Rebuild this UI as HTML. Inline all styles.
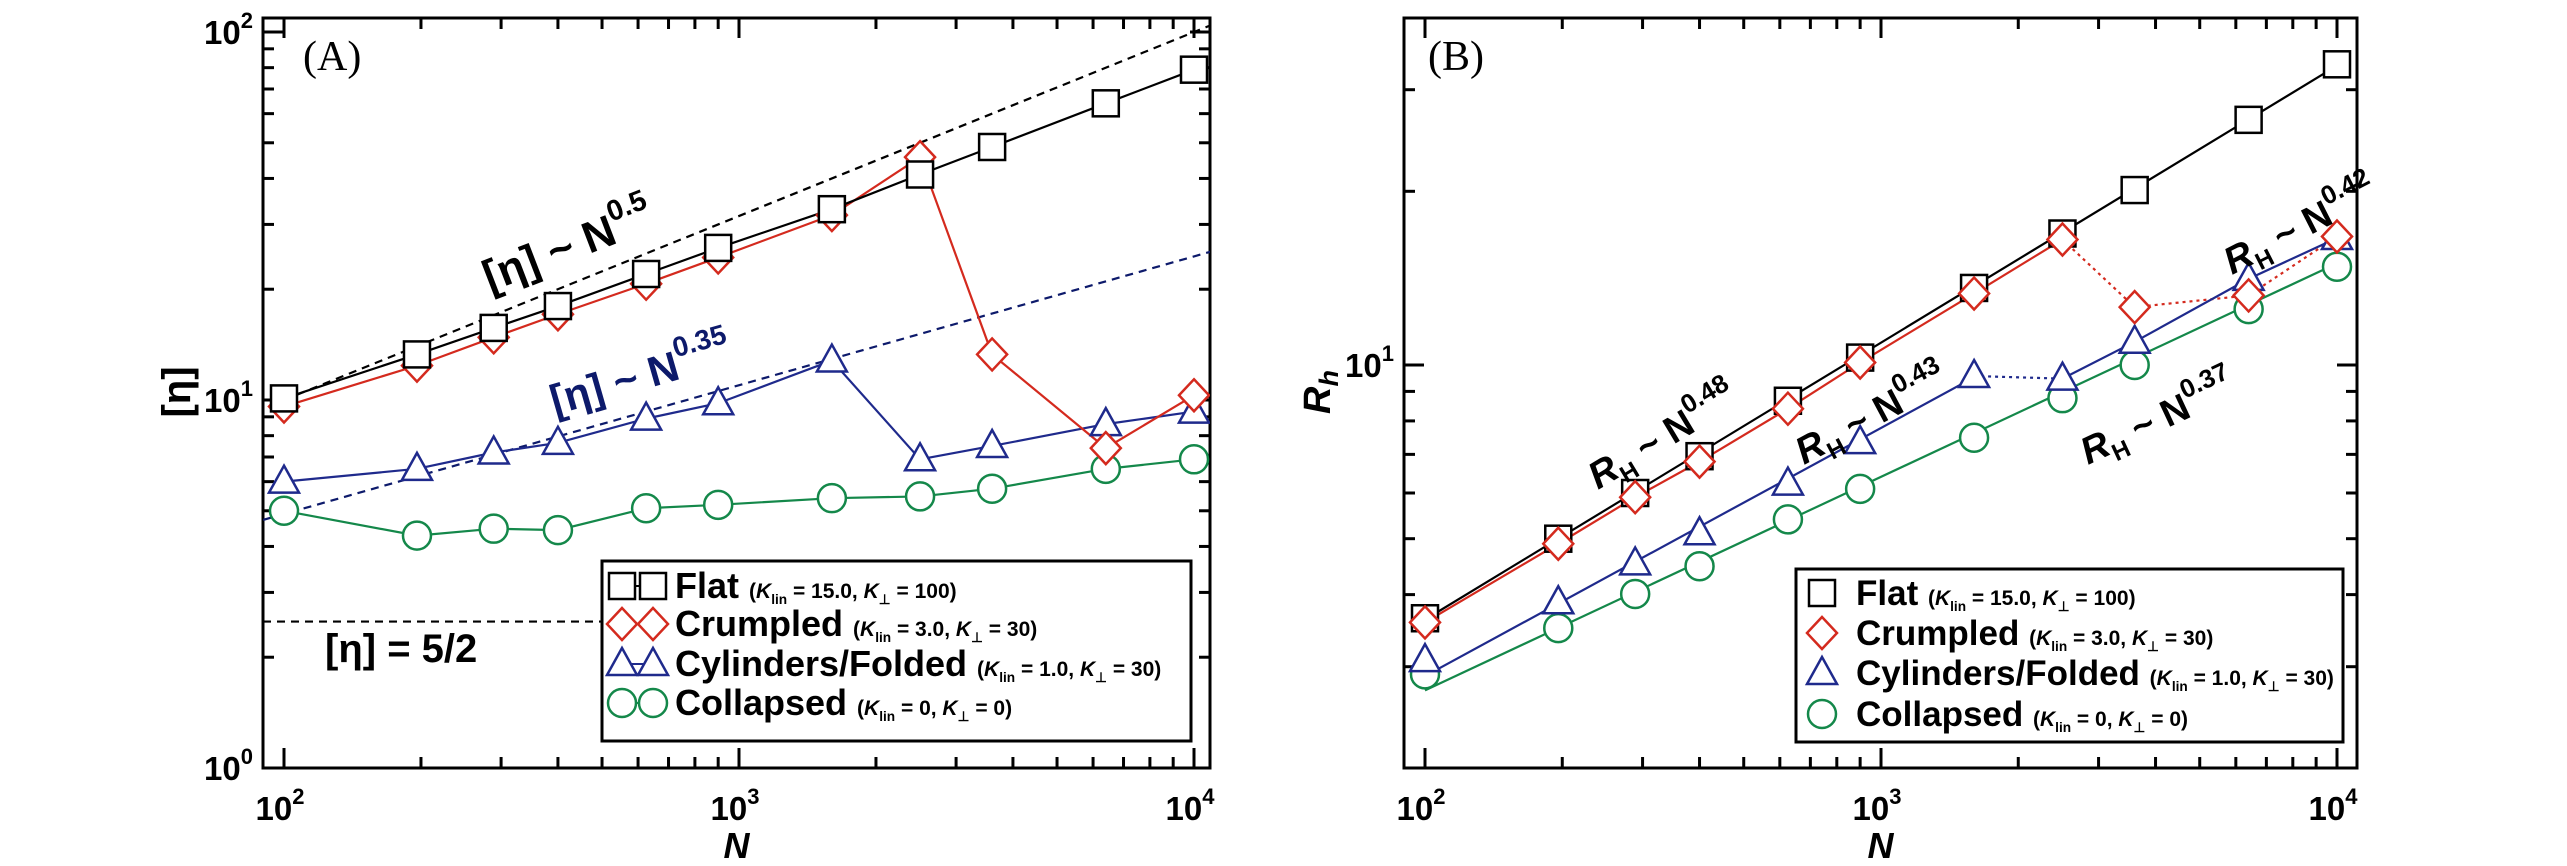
<!DOCTYPE html>
<html><head><meta charset="utf-8"><style>
html,body{margin:0;padding:0;background:#fff;}
svg{display:block;font-family:"Liberation Sans",sans-serif;}
</style></head><body>
<svg id="fig" width="2567" height="866" viewBox="0 0 2567 866" xmlns="http://www.w3.org/2000/svg">
<g id="pa"></g>
<g id="pb"></g>
</svg>
<script>
// ---- data ----
const N = [100,196,289,400,625,900,1600,2500,3600,6400,10000];
const etaFlat = [10.1,13.3,15.7,18.0,22.0,25.9,33.0,41,48.7,64,79];
const etaCrumpled = [9.6,12.4,14.8,17.1,20.7,24.4,31.8,45.7,13.3,7.4,10.3];
const etaCyl = [6.0,6.5,7.2,7.65,8.9,9.8,12.8,6.9,7.5,8.6,9.3];
const etaCollapsed = [5.0,4.28,4.47,4.43,5.08,5.19,5.41,5.47,5.74,6.5,6.9];
const rhFlat = [3.64,5.0,6.0,6.95,8.67,10.3,13.6,16.9,20.1,26.6,33.2];
const rhCrumpled = [3.58,4.9,5.9,6.8,8.4,10.1,13.3,16.5,12.6,13.2,16.7];
const rhCyl = [3.08,3.88,4.53,5.11,6.23,7.35,9.57,9.47,10.97,14.1,16.6];
const rhCollapsed = [2.91,3.5,4.01,4.48,5.4,6.1,7.48,8.76,10.0,12.5,14.8];
const xTicks = [100,1000,10000];
const xTickExp = ["2","3","4"];
const yTicksA = [1,10,100];
const yTickExpA = ["0","1","2"];
const yTicksB = [10];
const yTickExpB = ["1"];

const NS="http://www.w3.org/2000/svg";
function mk(parent,tag,attrs){const e=document.createElementNS(NS,tag);for(const k in attrs)e.setAttribute(k,attrs[k]);parent.appendChild(e);return e;}
const lg=Math.log10;
const A={l:263,r:1210,t:18,b:768,x0:284,dx:455,y0:768,dy:368};
const B={l:1404,r:2357,t:18,b:768,x0:1425,dx:456,y0:365,dy:577};
function xA(n){return A.x0+(lg(n)-2)*A.dx;}
function yA(v){return A.y0-lg(v)*A.dy;}
function xB(n){return B.x0+(lg(n)-2)*B.dx;}
function yB(v){return B.y0-(lg(v)-1)*B.dy;}

function frame(g,P,xf,yf,yTicks,yExp,yMinors){
  const fr=mk(g,'rect',{x:P.l,y:P.t,width:P.r-P.l,height:P.b-P.t,fill:'none',stroke:'#000','stroke-width':3});
  
  
  for(let d=2;d<=4;d++){for(let m=1;m<10;m++){if(d==4&&m>1)continue;const v=m*Math.pow(10,d);
    const x=xf(v);if(x<P.l||x>P.r)continue;const L=m==1?20:11;
    mk(g,'line',{x1:x,y1:P.b,x2:x,y2:P.b-L,stroke:'#000','stroke-width':3});
    mk(g,'line',{x1:x,y1:P.t,x2:x,y2:P.t+L,stroke:'#000','stroke-width':3});}}
  xTicks.forEach((v,i)=>{const t=mk(g,'text',{x:xf(v)-4,y:P.b+52,'font-size':33,'font-weight':'bold','text-anchor':'middle'});
    
    
    t.textContent='10';const s=mk(t,'tspan',{dy:-16,'font-size':22});s.textContent=xTickExp[i];});
  yMinors.forEach(v=>{const y=yf(v);if(y<P.t||y>P.b)return;const major=Math.abs(lg(v)-Math.round(lg(v)))<1e-9;const L=major?20:11;
    mk(g,'line',{x1:P.l,y1:y,x2:P.l+L,y2:y,stroke:'#000','stroke-width':3});
    mk(g,'line',{x1:P.r,y1:y,x2:P.r-L,y2:y,stroke:'#000','stroke-width':3});});
  yTicks.forEach((v,i)=>{const t=mk(g,'text',{x:P.l-10,y:yf(v)+12,'font-size':33,'font-weight':'bold','text-anchor':'end'});
    
    
    t.textContent='10';const s=mk(t,'tspan',{dy:-16,'font-size':22});s.textContent=yExp[i];});
  const xl=mk(g,'text',{x:(P.l+P.r)/2,y:P.b+90,'font-size':36,'font-weight':'bold','font-style':'italic','text-anchor':'middle'});
  
  
  xl.textContent='N';
}
function marker(g,type,x,y,color,name){
  let e;
  if(type=='sq')e=mk(g,'rect',{x:x-13,y:y-13,width:26,height:26,fill:'#fff',stroke:color,'stroke-width':2.5});
  else if(type=='di')e=mk(g,'polygon',{points:`${x},${y-16} ${x+15},${y} ${x},${y+16} ${x-15},${y}`,fill:'#fff',stroke:color,'stroke-width':2.5});
  else if(type=='tr')e=mk(g,'polygon',{points:`${x},${y-16} ${x+15},${y+11} ${x-15},${y+11}`,fill:'#fff',stroke:color,'stroke-width':2.5});
  else e=mk(g,'circle',{cx:x,cy:y,r:14,fill:'#fff',stroke:color,'stroke-width':2.5});
  
  
  return e;
}
function poly(g,pts,color,dash,name,w){
  const e=mk(g,'polyline',{points:pts.map(p=>p.join(',')).join(' '),fill:'none',stroke:color,'stroke-width':w||2.2});
  if(dash)e.setAttribute('stroke-dasharray',dash);
  
  
  return e;
}
function rtext(g,x,y,ang,size,color,parts,name){
  const t=mk(g,'text',{x:x,y:y,'font-size':size,'font-weight':'bold',fill:color,transform:`rotate(${ang} ${x} ${y})`});
  
  
  parts.forEach(p=>{const s=mk(t,'tspan',p.a||{});s.textContent=p.t;});
  return t;
}
const RED='#d42a1e',BLUE='#1f2a8c',GREEN='#14884a',NAVY='#0d1a6b';
function legendText(parent,x,y,nm,params,big,small){
  const t=mk(parent,'text',{x:x,y:y+12,'font-size':big,'font-weight':'bold'});t.textContent=nm+' ';
  const p=mk(t,'tspan',{'font-size':small});p.textContent='(';
  const k=mk(t,'tspan',{'font-size':small,'font-style':'italic'});k.textContent='K';
  const s1=mk(t,'tspan',{'font-size':small*0.65,dy:6});s1.textContent='lin';
  const r1=mk(t,'tspan',{'font-size':small,dy:-6});r1.textContent=' = '+params[0]+', ';
  const k2=mk(t,'tspan',{'font-size':small,'font-style':'italic'});k2.textContent='K';
  const s2=mk(t,'tspan',{'font-size':small*0.65,dy:6});s2.textContent='⊥';
  const r2=mk(t,'tspan',{'font-size':small,dy:-6});r2.textContent=' = '+params[1]+')';
}

// ---------- Panel A ----------
const ga=document.getElementById('pa');
const minA=[];for(let d=0;d<2;d++)for(let m=1;m<10;m++)minA.push(m*Math.pow(10,d));minA.push(100);
frame(ga,A,xA,yA,yTicksA,yTickExpA,minA);
const clipA=mk(ga,'clipPath',{id:'ca'});mk(clipA,'rect',{x:A.l,y:A.t,width:A.r-A.l,height:A.b-A.t});
const ia=mk(ga,'g',{'clip-path':'url(#ca)'});
poly(ia,[[xA(100),yA(10)],[xA(12000),yA(10*Math.sqrt(120))]],'#000','8,6','guide-n05');
poly(ia,[[xA(90),yA(4.9*Math.pow(0.9,0.35))],[xA(12000),yA(4.9*Math.pow(120,0.35))]],NAVY,'8,6','guide-n035');
poly(ia,[[A.l,yA(2.5)],[602,yA(2.5)]],'#000','8,6','guide-eta-5-2');
const seriesA=[[etaCollapsed,GREEN,'ci','collapsed'],[etaCyl,BLUE,'tr','cylinders'],[etaCrumpled,RED,'di','crumpled'],[etaFlat,'#000','sq','flat']];
seriesA.forEach(s=>{poly(ia,N.map((n,i)=>[xA(n),yA(s[0][i])]),s[1],null,'line-'+s[3]);});
seriesA.forEach(s=>{N.forEach((n,i)=>marker(ia,s[2],xA(n),yA(s[0][i]),s[1],'point-'+s[3]));});
const la=mk(ga,'text',{x:303,y:70,'font-size':42,'font-family':'Liberation Serif, serif'});


la.textContent='(A)';
const yla=mk(ga,'text',{x:190,y:392,'font-size':40,'font-weight':'bold','text-anchor':'middle',transform:'rotate(-90 190 392)'});


yla.textContent='[η]';
rtext(ga,490,292,-21,44,'#000',[{t:'[η] ~ N'},{t:'0.5',a:{dy:-22,'font-size':29}}],'annotation-n05');
rtext(ga,555,415,-16,42,NAVY,[{t:'[η] ~ N'},{t:'0.35',a:{dy:-22,'font-size':28}}],'annotation-n035');
rtext(ga,325,662,0,40,'#000',[{t:'[η] = 5/2'}],'annotation-eta-5-2');
const legA=mk(ga,'g',{});


mk(legA,'rect',{x:602,y:561,width:589,height:180,fill:'#fff',stroke:'#000','stroke-width':3});
const legNames=['Flat','Crumpled','Cylinders/Folded','Collapsed'];
const legParams=[['15.0','100'],['3.0','30'],['1.0','30'],['0','0']];
const legCols=['#000',RED,BLUE,GREEN],legMk=['sq','di','tr','ci'];
const rowsA=[586,624,664,703];
legNames.forEach((nm,i)=>{const y=rowsA[i];
  const e=mk(legA,'g',{});
  
  
  mk(e,'line',{x1:622,y1:y,x2:652,y2:y,stroke:legCols[i],'stroke-width':2});
  marker(e,legMk[i],622,y,legCols[i],'legend-marker');marker(e,legMk[i],653,y,legCols[i],'legend-marker');
  legendText(e,675,y,nm,legParams[i],36,21);
});

// ---------- Panel B ----------
const gb=document.getElementById('pb');
const minB=[2,3,4,5,6,7,8,9,10,20,30,40];
frame(gb,B,xB,yB,yTicksB,yTickExpB,minB);
const clipB=mk(gb,'clipPath',{id:'cb'});mk(clipB,'rect',{x:B.l,y:B.t,width:B.r-B.l,height:B.b-B.t});
const ib=mk(gb,'g',{'clip-path':'url(#cb)'});
const fitF=n=>3.62*Math.pow(n/100,0.48), fitC=n=>2.89*Math.pow(n/100,0.43), fitG=n=>2.73*Math.pow(n/100,0.37);
poly(ib,[[xB(100),yB(fitF(100))],[xB(10000),yB(fitF(10000))]],'#000',null,'fit-flat');
poly(ib,N.slice(0,8).map((n,i)=>[xB(n),yB(rhCrumpled[i])]),RED,null,'line-crumpled');
poly(ib,N.slice(7).map((n,i)=>[xB(n),yB(rhCrumpled[i+7])]),RED,'3,4','line-crumpled-dotted');
poly(ib,[[xB(100),yB(fitC(100))],[xB(1600),yB(fitC(1600))]],BLUE,null,'fit-cylinders');
poly(ib,[[xB(1600),yB(rhCyl[6])],[xB(2500),yB(rhCyl[7])]],BLUE,'3,4','line-cylinders-dotted');
poly(ib,N.slice(7).map((n,i)=>[xB(n),yB(rhCyl[i+7])]),BLUE,null,'fit-cylinders-042');
poly(ib,[[xB(100),yB(fitG(100))],[xB(10000),yB(fitG(10000))]],GREEN,null,'fit-collapsed');
const seriesB=[[rhCollapsed,GREEN,'ci','collapsed'],[rhCyl,BLUE,'tr','cylinders'],[rhFlat,'#000','sq','flat'],[rhCrumpled,RED,'di','crumpled']];
seriesB.forEach(s=>{N.forEach((n,i)=>marker(ib,s[2],xB(n),yB(s[0][i]),s[1],'point-'+s[3]));});
const lb=mk(gb,'text',{x:1428,y:70,'font-size':42,'font-family':'Liberation Serif, serif'});


lb.textContent='(B)';
const ylb=mk(gb,'text',{x:1330,y:392,'font-size':38,'font-weight':'bold','font-style':'italic','text-anchor':'middle',transform:'rotate(-90 1330 392)'});


ylb.textContent='R';
const ylbs=mk(ylb,'tspan',{'font-size':27,dy:8});ylbs.textContent='h';
function rh(x,y,ang,exp,name){rtext(gb,x,y,ang,38,'#000',[{t:'R',a:{'font-style':'italic'}},{t:'H',a:{'font-size':24,dy:9}},{t:' ~ N',a:{dy:-9}},{t:exp,a:{dy:-19,'font-size':26}}],name);}
rh(1598,490,-31,'0.48','annotation-rh-048');
rh(1804,465,-28,'0.43','annotation-rh-043');
rh(2088,465,-25,'0.37','annotation-rh-037');
rh(2232,275,-27,'0.42','annotation-rh-042');
const legB=mk(gb,'g',{});


mk(legB,'rect',{x:1796,y:569,width:547,height:173,fill:'#fff',stroke:'#000','stroke-width':3});
const rowsB=[593,633,673,714];
legNames.forEach((nm,i)=>{const y=rowsB[i];
  const e=mk(legB,'g',{});
  
  
  marker(e,legMk[i],1822,y,legCols[i],'legend-marker');
  legendText(e,1856,y,nm,legParams[i],35,21);
});
</script>
</body></html>
